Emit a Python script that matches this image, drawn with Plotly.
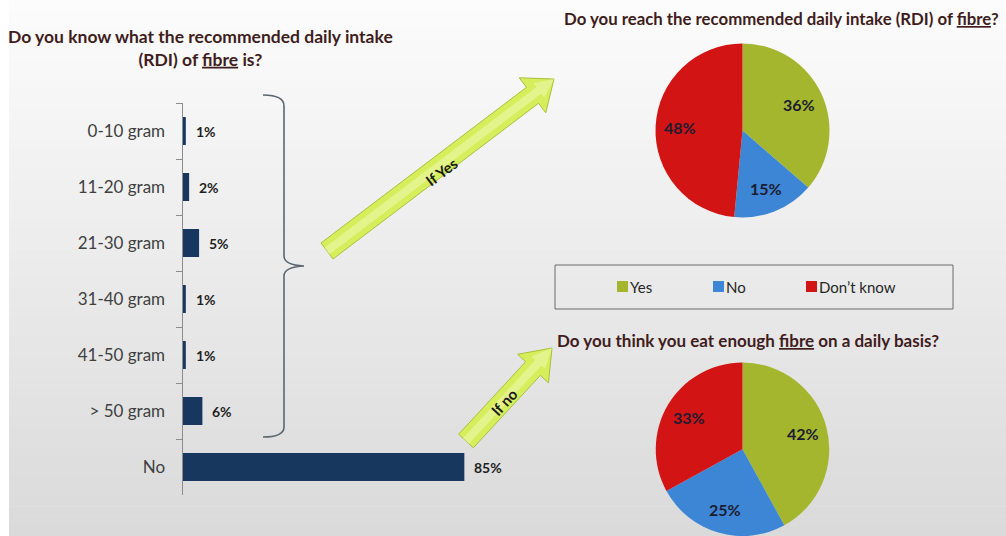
import math
import plotly.graph_objects as go

# ---- data ----
rdi_categories = ["0-10 gram", "11-20 gram", "21-30 gram", "31-40 gram",
                  "41-50 gram", "> 50 gram", "No"]
rdi_share = [1, 2, 5, 1, 1, 6, 85]

answer_labels = ["Yes", "No", "Don\u2019t know"]
reach_rdi = [36, 15, 48]
eat_enough = [42, 25, 33]

answer_colors = ["#a4b62e", "#3d86d6", "#d21414"]
bar_color = "#17375e"

title_left = ("Do you know what the recommended daily intake<br>"
              "(RDI) of <span style='text-decoration:underline'>fibre</span> is?")
title_top = ("Do you reach the recommended daily intake (RDI) of "
             "<span style='text-decoration:underline'>fibre</span>?")
title_bottom = ("Do you think you eat enough "
                "<span style='text-decoration:underline'>fibre</span> on a daily basis?")

# ---- page geometry (pixels) ----
W, H = 1006, 536
FONT = "Lato, Carlito, Calibri, sans-serif"
TITLE_COLOR = "#3f1d1d"
PIE_R = 87
PIE_CX = 742.5
PIE_CENTERS_Y = (130.5, 449.5)


def px(x):
    return x / W


def py(y):
    return 1 - y / H


def clamp(v):
    return min(1.0, max(0.0, v))


def path_from(points, close=True):
    s = "M " + " L ".join(f"{px(x):.5f},{py(y):.5f}" for x, y in points)
    return s + (" Z" if close else "")


def arrow_points(tail, tip, shaft, head, head_len):
    dx, dy = tip[0] - tail[0], tip[1] - tail[1]
    L = math.hypot(dx, dy)
    ux, uy = dx / L, dy / L
    nx, ny = -uy, ux
    bx, by = tip[0] - ux * head_len, tip[1] - uy * head_len
    return [
        (tail[0] + nx * shaft, tail[1] + ny * shaft),
        (bx + nx * shaft, by + ny * shaft),
        (bx + nx * head, by + ny * head),
        tip,
        (bx - nx * head, by - ny * head),
        (bx - nx * shaft, by - ny * shaft),
        (tail[0] - nx * shaft, tail[1] - ny * shaft),
    ]


fig = go.Figure()

# horizontal bars for the RDI knowledge question
fig.add_trace(go.Bar(
    x=rdi_share, y=rdi_categories, orientation="h",
    marker=dict(color=bar_color, line=dict(width=0)),
    width=0.5, hoverinfo="skip", showlegend=False,
    xaxis="x", yaxis="y",
))

annotations = []

# two pies sharing the same answer categories, labels placed on each slice
for values, cy in zip((reach_rdi, eat_enough), PIE_CENTERS_Y):
    fig.add_trace(go.Pie(
        labels=answer_labels, values=values, sort=False,
        direction="clockwise", rotation=0,
        marker=dict(colors=answer_colors, line=dict(width=0)),
        textinfo="none",
        domain=dict(x=[clamp(px(PIE_CX - PIE_R)), clamp(px(PIE_CX + PIE_R))],
                    y=[clamp(py(cy + PIE_R)), clamp(py(cy - PIE_R))]),
        hoverinfo="skip", showlegend=False,
    ))
    total = sum(values)
    start = 0.0
    for v in values:
        mid = (start + v / 2) / total * 2 * math.pi
        start += v
        lx = PIE_CX + 0.72 * PIE_R * math.sin(mid)
        ly = cy - 0.72 * PIE_R * math.cos(mid)
        annotations.append(dict(x=px(lx), y=py(ly), xref="paper", yref="paper",
                                text=f"{v}%", showarrow=False,
                                xanchor="center", yanchor="middle",
                                font=dict(family=FONT, size=16, color="#1c1c30",
                                          weight="bold")))

shapes = []

# soft vertical background gradient
n_bands = 54
top_rgb = (252, 252, 252)
bot_rgb = (218, 218, 218)
for i in range(n_bands):
    t = i / (n_bands - 1)
    c = tuple(round(a + (b - a) * t) for a, b in zip(top_rgb, bot_rgb))
    y0 = H * i / n_bands
    y1 = min(H, H * (i + 1) / n_bands + 0.6)
    shapes.append(dict(type="rect", xref="paper", yref="paper",
                       x0=0, x1=1, y0=py(y1), y1=py(y0),
                       fillcolor=f"rgb{c}", line=dict(width=0), layer="below"))
shapes.append(dict(type="rect", xref="paper", yref="paper",
                   x0=0, x1=px(9), y0=0, y1=1,
                   fillcolor="white", line=dict(width=0), layer="below"))

# curly brace grouping the gram ranges
brace = (f"M {px(263):.5f},{py(95):.5f} "
         f"Q {px(284):.5f},{py(95):.5f} {px(284):.5f},{py(106):.5f} "
         f"L {px(284):.5f},{py(256):.5f} "
         f"Q {px(284):.5f},{py(265):.5f} {px(304):.5f},{py(266):.5f} "
         f"Q {px(284):.5f},{py(267):.5f} {px(284):.5f},{py(276):.5f} "
         f"L {px(284):.5f},{py(427):.5f} "
         f"Q {px(284):.5f},{py(437):.5f} {px(263):.5f},{py(437):.5f}")
shapes.append(dict(type="path", xref="paper", yref="paper", path=brace,
                   line=dict(color="#5c6670", width=1.6)))

# arrows
arrow_yes = dict(tail=(327, 251), tip=(554, 79), shaft=10, head=22, head_len=27)
arrow_no = dict(tail=(466, 441), tip=(552, 348), shaft=10, head=21, head_len=28)
for a in (arrow_yes, arrow_no):
    shapes.append(dict(type="path", xref="paper", yref="paper",
                       path=path_from(arrow_points(**a)),
                       fillcolor="#d6ee5c", line=dict(color="#a9c03e", width=1)))
    shapes.append(dict(type="path", xref="paper", yref="paper",
                       path=path_from(arrow_points(a["tail"], a["tip"], 4,
                                                   9, a["head_len"] - 8)),
                       fillcolor="rgba(240,250,180,0.55)", line=dict(width=0)))

# legend box
shapes.append(dict(type="rect", xref="paper", yref="paper",
                   x0=px(555), x1=px(953), y0=py(309), y1=py(265),
                   line=dict(color="#6b6b6b", width=1), fillcolor="rgba(0,0,0,0)"))
legend_x = [617, 713, 806]
for x0, col in zip(legend_x, answer_colors):
    shapes.append(dict(type="rect", xref="paper", yref="paper",
                       x0=px(x0), x1=px(x0 + 11), y0=py(292), y1=py(281),
                       fillcolor=col, line=dict(width=0)))

for cat, v in zip(rdi_categories, rdi_share):
    annotations.append(dict(x=v, y=cat, xref="x", yref="y", text=f"{v}%",
                            showarrow=False, xanchor="left", xshift=8,
                            font=dict(family=FONT, size=14, color="#1f1f1f",
                                      weight="bold")))

for x0, lab in zip(legend_x, answer_labels):
    annotations.append(dict(x=px(x0 + 11), y=py(286.5), xref="paper", yref="paper",
                            text=lab, showarrow=False, xanchor="left",
                            yanchor="middle",
                            font=dict(family=FONT, size=15, color="#262626")))

annotations += [
    dict(x=px(200), y=py(48), xref="paper", yref="paper", text=title_left,
         showarrow=False, align="center", xanchor="center", yanchor="middle",
         font=dict(family=FONT, size=17.5, color=TITLE_COLOR, weight="bold")),
    dict(x=px(562), y=py(19), xref="paper", yref="paper", text=title_top,
         showarrow=False, xanchor="left", yanchor="middle",
         font=dict(family=FONT, size=16.8, color=TITLE_COLOR, weight="bold")),
    dict(x=px(555), y=py(340), xref="paper", yref="paper", text=title_bottom,
         showarrow=False, xanchor="left", yanchor="middle",
         font=dict(family=FONT, size=17, color=TITLE_COLOR, weight="bold")),
    dict(x=px(441), y=py(172), xref="paper", yref="paper", text="<b>If Yes</b>",
         showarrow=False, textangle=-37, xanchor="center", yanchor="middle",
         font=dict(family=FONT, size=15, color="#1a1a1a")),
    dict(x=px(504), y=py(402), xref="paper", yref="paper", text="<b>If no</b>",
         showarrow=False, textangle=-47, xanchor="center", yanchor="middle",
         font=dict(family=FONT, size=15, color="#1a1a1a")),
]

fig.update_layout(
    width=W, height=H, autosize=False,
    margin=dict(l=0, r=0, t=0, b=0, pad=0),
    paper_bgcolor="white", plot_bgcolor="rgba(0,0,0,0)",
    showlegend=False,
    xaxis=dict(domain=[px(182.5), px(560)], range=[0, 113.85], visible=False,
               fixedrange=True),
    yaxis=dict(domain=[py(495), py(103)], type="category",
               categoryorder="array", categoryarray=rdi_categories,
               autorange="reversed", anchor="x",
               showline=True, linecolor="#8c8c8c", linewidth=1,
               ticks="outside", ticklen=6, tickcolor="#8c8c8c", tickson="boundaries",
               ticklabelstandoff=13, showgrid=False, zeroline=False,
               tickfont=dict(family=FONT, size=17, color="#404040"),
               fixedrange=True),
    shapes=shapes, annotations=annotations,
    font=dict(family=FONT),
)

fig.write_html("out.html", config=dict(displayModeBar=False))
